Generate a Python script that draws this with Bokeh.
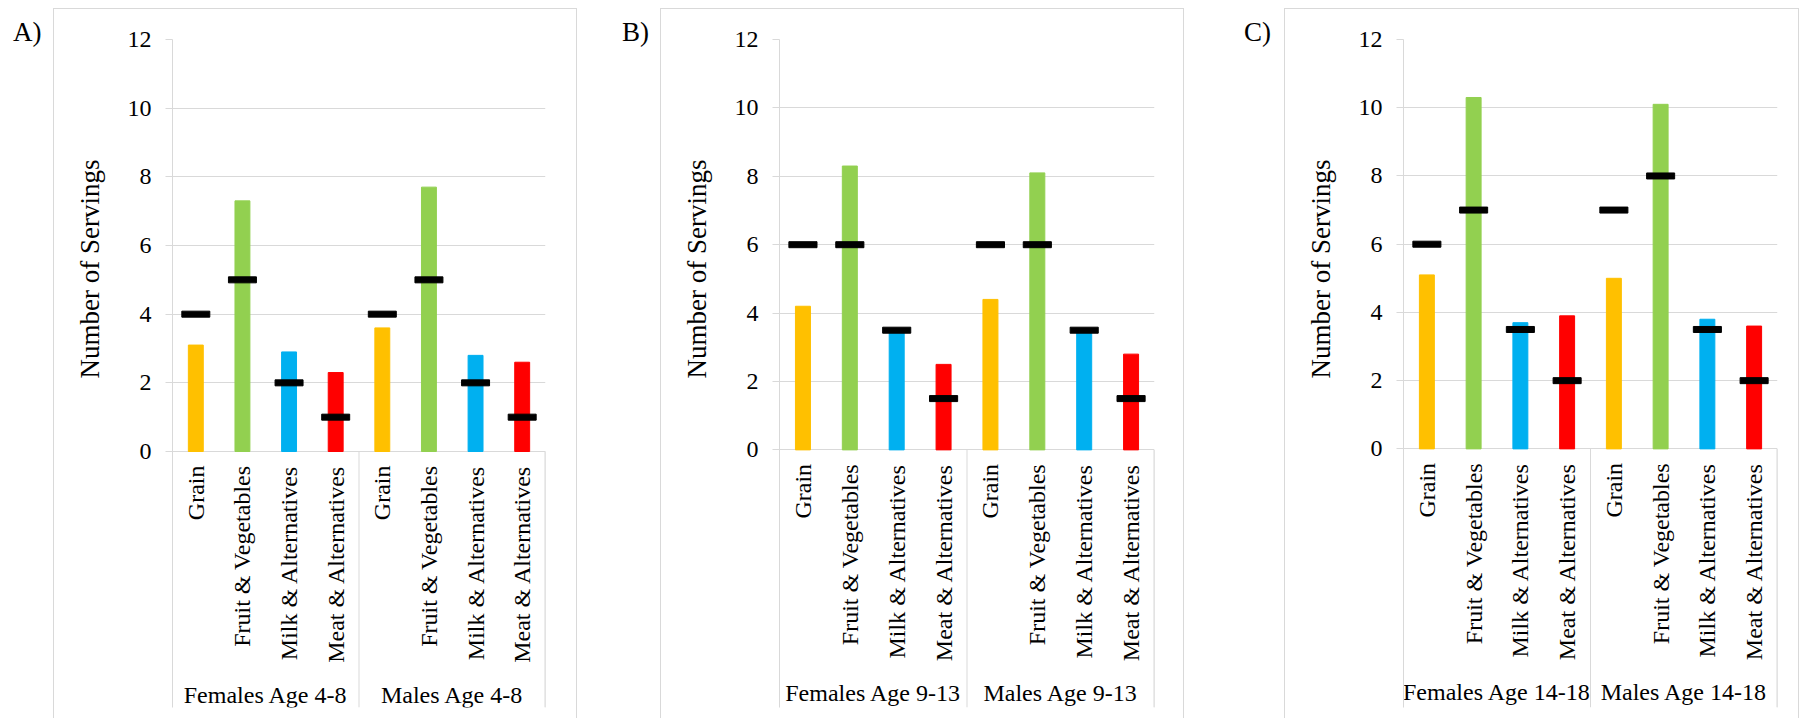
import math
from bokeh.plotting import figure
from bokeh.layouts import row
from bokeh.models import (FactorRange, Range1d, FixedTicker, Title, Div,
                          ColumnDataSource)
from bokeh.core.properties import value
from bokeh.embed import file_html
from bokeh.resources import INLINE

# ---------------- data ----------------
categories = ["Grain", "Fruit & Vegetables", "Milk & Alternatives", "Meat & Alternatives"]
category_colors = ["#FFC000", "#92D050", "#00B0F0", "#FF0000"]
y_ticks = [0, 2, 4, 6, 8, 10, 12]
y_title = "Number of Servings"

groups_a = ["Females Age 4-8", "Males Age 4-8"]
intake_a_f = [3.1, 7.3, 2.9, 2.3]
intake_a_m = [3.6, 7.7, 2.8, 2.6]
target_a_f = [4, 5, 2, 1]
target_a_m = [4, 5, 2, 1]

groups_b = ["Females Age 9-13", "Males Age 9-13"]
intake_b_f = [4.2, 8.3, 3.5, 2.5]
intake_b_m = [4.4, 8.1, 3.5, 2.8]
target_b_f = [6, 6, 3.5, 1.5]
target_b_m = [6, 6, 3.5, 1.5]

groups_c = ["Females Age 14-18", "Males Age 14-18"]
intake_c_f = [5.1, 10.3, 3.7, 3.9]
intake_c_m = [5.0, 10.1, 3.8, 3.6]
target_c_f = [6, 7, 3.5, 2]
target_c_m = [7, 8, 3.5, 2]

FONT = "Liberation Serif"
GRID = "#d9d9d9"
H = 718
TOP = 9          # top of each panel box (just below its outline)
FRAME_BOTTOM = 707  # where the category separators end


def letter_div(letter, width, pad_left):
    html = ('<div style="padding:19px 0 0 %dpx;font-family:\'Liberation Serif\';'
            'font-size:27px;line-height:1;color:black;white-space:nowrap">%s</div>'
            % (pad_left, letter))
    return Div(text=html, width=width, height=60, margin=(0, 0, 0, 0))


def make_panel(groups, intake_f, intake_m, target_f, target_m, width,
               border_left, border_right, y12_px, y0_px):
    factors = [(g, c) for g in groups for c in categories]
    src = ColumnDataSource(dict(
        x=factors,
        intake=list(intake_f) + list(intake_m),
        target=list(target_f) + list(target_m),
        color=category_colors * 2,
        label=categories * 2,
        base=[0] * len(factors),
    ))
    px_per_unit = (y0_px - y12_px) / 12.0
    y_start = -(FRAME_BOTTOM - y0_px) / px_per_unit

    xr = FactorRange(factors=factors, range_padding=0, group_padding=0,
                     factor_padding=0, subgroup_padding=0)
    p = figure(width=width, height=H - TOP, x_range=xr, y_range=Range1d(y_start, 12),
               output_backend="svg", toolbar_location=None,
               min_border_left=border_left, min_border_right=border_right,
               min_border_top=y12_px - TOP, min_border_bottom=H - FRAME_BOTTOM,
               margin=(TOP, 0, 0, 0),
               styles={"outline": "1px solid #d9d9d9"})
    p.outline_line_color = None
    p.background_fill_color = "white"
    p.border_fill_color = "white"
    p.xaxis.visible = False
    p.xgrid.grid_line_color = None
    p.ygrid.grid_line_color = GRID
    p.ygrid.grid_line_width = 1

    # bars and target markers
    p.vbar(x="x", top="intake", width=0.32, color="color", source=src)
    p.rect(x="x", y="target", width=0.6, height=6, height_units="screen",
           color="black", source=src)

    # category labels under the zero line
    p.text(x="x", y="base", text="label", source=src, angle=math.pi / 2,
           y_offset=14, text_align="right", text_baseline="middle",
           text_font=value(FONT), text_font_size=value("24px"), text_color="black")

    # group labels and group separators
    gsrc = ColumnDataSource(dict(
        x=groups, base=[0] * len(groups), label=groups,
    ))
    p.text(x="x", y="base", text="label", source=gsrc, y_offset=243,
           text_align="center", text_baseline="middle",
           text_font=value(FONT), text_font_size=value("24px"), text_color="black")
    sep_x = [(groups[1], categories[0], -0.5), (groups[1], categories[-1], 0.5)]
    ssrc = ColumnDataSource(dict(x=sep_x, y0=[0, 0], y1=[y_start, y_start]))
    p.segment(x0="x", y0="y0", x1="x", y1="y1", source=ssrc,
              line_color=GRID, line_width=[1.0, 2.0][0])
    p.segment(x0="x", y0="y0", x1="x", y1="y1", source=ColumnDataSource(dict(
        x=sep_x[1:], y0=[0], y1=[y_start])), line_color=GRID, line_width=2)

    yax = p.yaxis[0]
    yax.ticker = FixedTicker(ticks=y_ticks)
    yax.axis_line_color = GRID
    yax.major_tick_line_color = GRID
    yax.major_tick_out = 7
    yax.major_tick_in = 0
    yax.minor_tick_line_color = None
    yax.major_label_standoff = 14
    yax.major_label_text_font = FONT
    yax.major_label_text_font_size = "24px"
    yax.major_label_text_color = "black"

    p.add_layout(Title(text=y_title, align="left", offset=FRAME_BOTTOM - 378,
                       vertical_align="middle", standoff=38,
                       text_font=FONT, text_font_size="27px",
                       text_font_style="normal", text_color="black"), "left")
    return p


pa = make_panel(groups_a, intake_a_f, intake_a_m, target_a_f, target_a_m,
                522, 116, 31, 39, 451)
pb = make_panel(groups_b, intake_b_f, intake_b_m, target_b_f, target_b_m,
                522, 116, 29, 38, 449)
pc = make_panel(groups_c, intake_c_f, intake_c_m, target_c_f, target_c_m,
                513, 116, 21, 38, 448)

layout = row(letter_div("A)", 54, 13), pa,
             letter_div("B)", 85, 46), pb,
             letter_div("C)", 102, 61), pc, spacing=0)
open("out.html", "w").write(file_html(layout, INLINE))
